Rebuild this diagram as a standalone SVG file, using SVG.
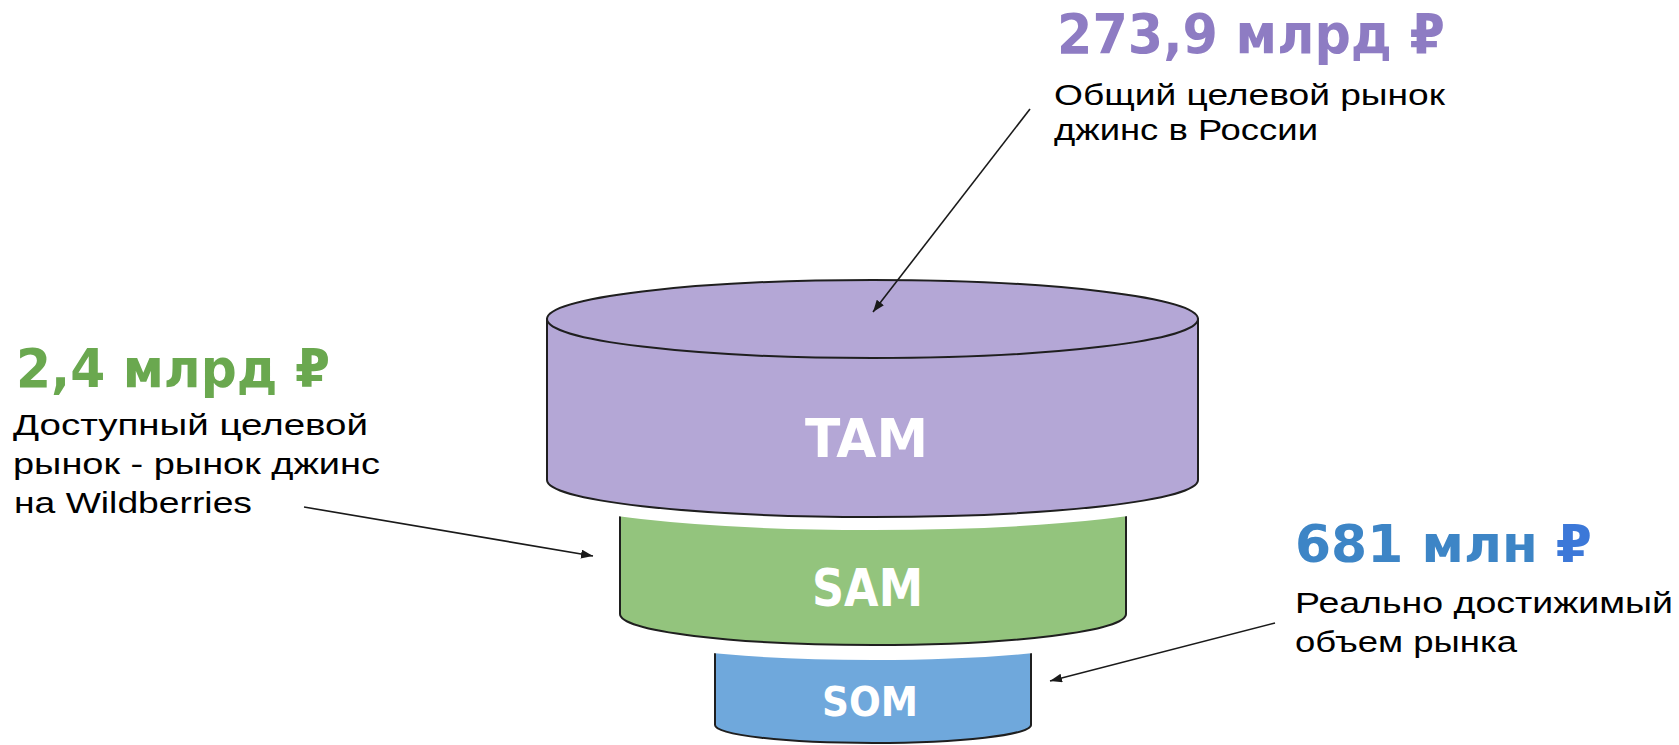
<svg xmlns="http://www.w3.org/2000/svg" width="1679" height="745" viewBox="0 0 1679 745">
<style>
.cyl{stroke:#1f1f1f;stroke-width:2;stroke-linejoin:round}
.halo{fill:none;stroke:#ffffff}
.big{font-family:"DejaVu Sans",Verdana,sans-serif;font-weight:bold}
.body{font-family:"Liberation Sans",Arial,sans-serif;font-size:30px;fill:#000000}
.inner{font-family:"DejaVu Sans",Verdana,sans-serif;font-weight:bold;fill:#ffffff}
.conn{stroke:#1a1a1a;stroke-width:1.6;fill:none}
</style>
<defs>
<marker id="arrow" markerUnits="userSpaceOnUse" markerWidth="13" markerHeight="10" refX="12" refY="4.5" orient="auto">
<path d="M0,0 L12,4.5 L0,9 Z" fill="#1a1a1a"/>
</marker>
</defs>
<rect width="1679" height="745" fill="#ffffff"/>

<g id="som">
<path class="cyl" fill="#6fa8dc" d="M715,640 L715,725 A158,18 0 0 0 1031,725 L1031,640 Z"/>
<text class="inner" x="822" y="716" font-size="40" textLength="96" lengthAdjust="spacingAndGlyphs">SOM</text>
</g>
<path class="halo" stroke-width="30" d="M620,614 A253,31 0 0 0 1126,614"/>
<g id="sam">
<path class="cyl" fill="#93c47d" d="M620,470 L620,614 A253,31 0 0 0 1126,614 L1126,470 Z"/>
<text class="inner" x="812" y="606" font-size="51" textLength="111" lengthAdjust="spacingAndGlyphs">SAM</text>
</g>
<path class="halo" stroke-width="26" d="M547,480 A325.5,37 0 0 0 1198,480"/>
<g id="tam">
<path class="cyl" fill="#b4a7d6" d="M547,319 L547,480 A325.5,37 0 0 0 1198,480 L1198,319 Z"/>
<ellipse class="cyl" fill="#b4a7d6" cx="872.5" cy="319" rx="325.5" ry="39"/>
<text class="inner" x="805" y="457" font-size="53.5" textLength="123" lengthAdjust="spacingAndGlyphs">TAM</text>
</g>

<g id="label-tam">
<text class="big" x="1057" y="53" font-size="55" fill="#8e7cc3" textLength="388" lengthAdjust="spacingAndGlyphs">273,9 млрд ₽</text>
<text class="body" x="1054" y="105" textLength="391" lengthAdjust="spacingAndGlyphs">Общий целевой рынок</text>
<text class="body" x="1054" y="140" textLength="264" lengthAdjust="spacingAndGlyphs">джинс в России</text>
</g>
<g id="label-sam">
<text class="big" x="16" y="387" font-size="53" fill="#6aa84f" textLength="314" lengthAdjust="spacingAndGlyphs">2,4 млрд ₽</text>
<text class="body" x="13" y="435" textLength="355" lengthAdjust="spacingAndGlyphs">Доступный целевой</text>
<text class="body" x="13" y="474" textLength="367" lengthAdjust="spacingAndGlyphs">рынок - рынок джинс</text>
<text class="body" x="14" y="513" textLength="238" lengthAdjust="spacingAndGlyphs">на Wildberries</text>
</g>
<g id="label-som">
<text class="big" x="1295" y="562" font-size="51" fill="#3d85c6" textLength="297" lengthAdjust="spacingAndGlyphs">681 млн <tspan fill="#3c78d8">₽</tspan></text>
<text class="body" x="1295" y="613" textLength="378" lengthAdjust="spacingAndGlyphs">Реально достижимый</text>
<text class="body" x="1295" y="652" textLength="222" lengthAdjust="spacingAndGlyphs">объем рынка</text>
</g>

<g id="connectors">
<line class="conn" x1="1030" y1="109" x2="873" y2="312" marker-end="url(#arrow)"/>
<line class="conn" x1="304" y1="507" x2="593" y2="556" marker-end="url(#arrow)"/>
<line class="conn" x1="1275" y1="623" x2="1050" y2="681" marker-end="url(#arrow)"/>
</g>
</svg>
